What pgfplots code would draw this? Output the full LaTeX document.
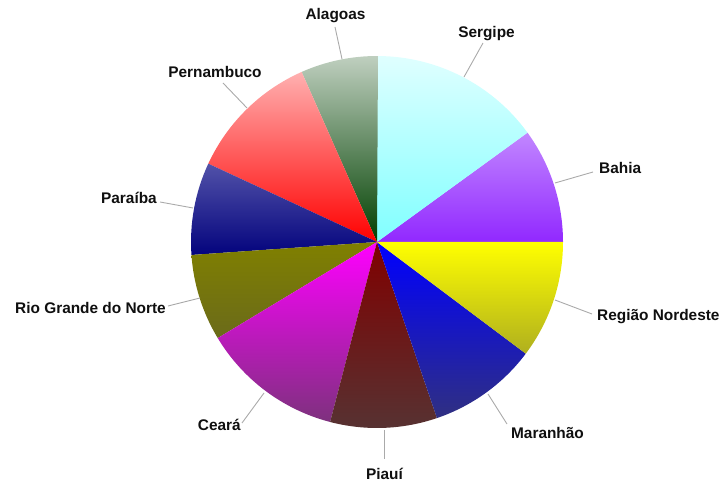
\documentclass[border=0pt]{standalone}
\usepackage{fontspec}
\setmainfont{Liberation Sans}
\usepackage{pgfplots}
\pgfplotsset{compat=1.18}
\definecolor{cBahia}{RGB}{145,40,255}
\definecolor{cSergipe}{RGB}{128,255,255}
\definecolor{cAlagoas}{RGB}{0,64,0}
\definecolor{cPern}{RGB}{255,0,0}
\definecolor{cPara}{RGB}{0,0,128}
\definecolor{cRGN}{RGB}{128,128,0}
\definecolor{cCeara}{RGB}{255,0,255}
\definecolor{cPiaui}{RGB}{128,0,0}
\definecolor{cMaran}{RGB}{0,0,255}
\definecolor{cRegiao}{RGB}{255,255,0}
\definecolor{dkg}{RGB}{70,70,70}
\definecolor{leader}{RGB}{170,170,170}
\definecolor{txt}{RGB}{15,15,15}
\tikzset{lab/.style={font=\fontsize{15.4}{18}\selectfont\bfseries, text=txt, inner sep=0pt}}
\begin{document}
\begin{tikzpicture}
\begin{axis}[
  scale only axis, width=723pt, height=482pt,
  xmin=0, xmax=723, ymin=0, ymax=482,
  hide axis, clip=false,
]
% invisible frame so that the picture is exactly the axis area
\addplot[draw=none, no marks, forget plot] coordinates {(0,0) (723,482)};
% slices: start angle -> end angle (degrees), centre (377,240), radius 186
% Bahia 0 -> 36.0
\addplot[draw=none, top color=cBahia!56!white, bottom color=cBahia] coordinates {(377,240)} -- ++(0:186pt) arc[start angle=0, end angle=36.0, radius=186pt] -- cycle;
% Sergipe 36.0 -> 89.7
\addplot[draw=none, top color=cSergipe!25!white, bottom color=cSergipe] coordinates {(377,240)} -- ++(36.0:186pt) arc[start angle=36.0, end angle=89.7, radius=186pt] -- cycle;
% Alagoas 89.7 -> 113.9
\addplot[draw=none, top color=cAlagoas!25!white, bottom color=cAlagoas] coordinates {(377,240)} -- ++(89.7:186pt) arc[start angle=89.7, end angle=113.9, radius=186pt] -- cycle;
% Pernambuco 113.9 -> 155.1
\addplot[draw=none, top color=cPern!31!white, bottom color=cPern] coordinates {(377,240)} -- ++(113.9:186pt) arc[start angle=113.9, end angle=155.1, radius=186pt] -- cycle;
% Paraiba 155.1 -> 184.0
\addplot[draw=none, top color=cPara!68!white, bottom color=cPara!95!dkg] coordinates {(377,240)} -- ++(155.1:186pt) arc[start angle=155.1, end angle=184.0, radius=186pt] -- cycle;
% Rio Grande do Norte 184.0 -> 211.1
\addplot[draw=none, top color=cRGN, bottom color=cRGN!63!dkg] coordinates {(377,240)} -- ++(184.0:186pt) arc[start angle=184.0, end angle=211.1, radius=186pt] -- cycle;
% Ceara 211.1 -> 255.4
\addplot[draw=none, top color=cCeara, bottom color=cCeara!30!dkg] coordinates {(377,240)} -- ++(211.1:186pt) arc[start angle=211.1, end angle=255.4, radius=186pt] -- cycle;
% Piaui 255.4 -> 288.8
\addplot[draw=none, top color=cPiaui, bottom color=cPiaui!28!dkg] coordinates {(377,240)} -- ++(255.4:186pt) arc[start angle=255.4, end angle=288.8, radius=186pt] -- cycle;
% Maranhao 288.8 -> 323.1
\addplot[draw=none, top color=cMaran, bottom color=cMaran!32!dkg] coordinates {(377,240)} -- ++(288.8:186pt) arc[start angle=288.8, end angle=323.1, radius=186pt] -- cycle;
% Regiao Nordeste 323.1 -> 360
\addplot[draw=none, top color=cRegiao, bottom color=cRegiao!57!dkg] coordinates {(377,240)} -- ++(323.1:186pt) arc[start angle=323.1, end angle=360, radius=186pt] -- cycle;

% leader lines
\addplot[leader, line width=0.9pt, no marks] coordinates {(335,455) (342,423)};
\addplot[leader, line width=0.9pt, no marks] coordinates {(483,439) (464,405)};
\addplot[leader, line width=0.9pt, no marks] coordinates {(223,399) (247,374)};
\addplot[leader, line width=0.9pt, no marks] coordinates {(593,310) (555,299)};
\addplot[leader, line width=0.9pt, no marks] coordinates {(592,168) (555,182)};
\addplot[leader, line width=0.9pt, no marks] coordinates {(160,280) (193,274)};
\addplot[leader, line width=0.9pt, no marks] coordinates {(168,176) (200,184)};
\addplot[leader, line width=0.9pt, no marks] coordinates {(242,59) (264,89)};
\addplot[leader, line width=0.9pt, no marks] coordinates {(384,52) (384,23)};
\addplot[leader, line width=0.9pt, no marks] coordinates {(507,58) (488,88)};

% labels
\node[lab, anchor=base] at (axis cs:335.5,462.5) {Alagoas};
\node[lab, anchor=base] at (axis cs:486.5,444.7) {Sergipe};
\node[lab, anchor=base] at (axis cs:215,404.3) {Pernambuco};
\node[lab, anchor=base west] at (axis cs:599,308) {Bahia};
\node[lab, anchor=base west] at (axis cs:597,161.5) {Região Nordeste};
\node[lab, anchor=base east] at (axis cs:157,278.7) {Paraíba};
\node[lab, anchor=base east] at (axis cs:166,168) {Rio Grande do Norte};
\node[lab, anchor=base east] at (axis cs:241,51) {Ceará};
\node[lab, anchor=base] at (axis cs:384.5,2.7) {Piauí};
\node[lab, anchor=base] at (axis cs:547.5,43.7) {Maranhão};
\end{axis}
\end{tikzpicture}
\end{document}
